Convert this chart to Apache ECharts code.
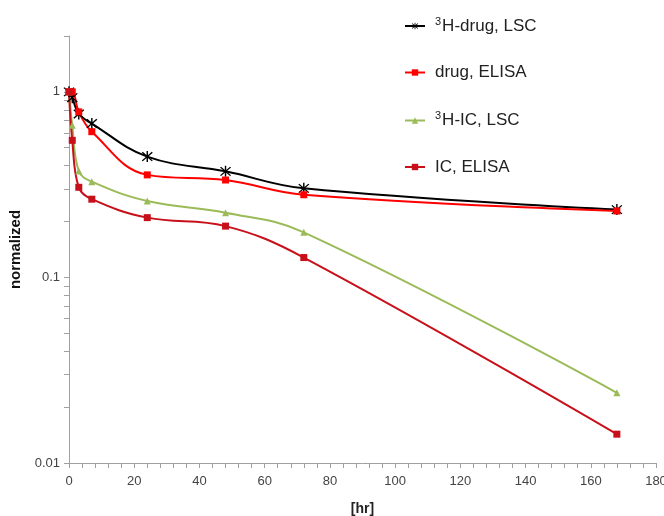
<!DOCTYPE html>
<html>
<head>
<meta charset="utf-8">
<script src="https://cdn.jsdelivr.net/npm/echarts@6/dist/echarts.min.js"></script>
<style>
  html, body { margin: 0; padding: 0; background: #fff; }
  #chart { width: 664px; height: 516px; }
</style>
</head>
<body>
<div id="chart"></div>
<script>
// Sampling times in hours
const times = [0, 1, 3, 7, 24, 48, 72, 168];

// Normalized concentrations per assay
const drugLSC   = [1.0, 0.93, 0.76, 0.675, 0.448, 0.373, 0.302, 0.232];
const drugELISA = [1.0, 1.0, 0.78, 0.61, 0.357, 0.335, 0.279, 0.228];
const icLSC     = [1.0, 0.66, 0.375, 0.328, 0.258, 0.223, 0.175, 0.0239];
const icELISA   = [1.0, 0.548, 0.306, 0.264, 0.210, 0.189, 0.128, 0.0143];

// Axis ticks
const xTicks = [0, 20, 40, 60, 80, 100, 120, 140, 160, 180];
const yLabels = [0.01, 0.1, 1];
const yMinorTicks = [0.02, 0.03, 0.04, 0.05, 0.06, 0.07, 0.08, 0.09,
                     0.2, 0.3, 0.4, 0.5, 0.6, 0.7, 0.8, 0.9, 2];

const pair = (ys) => times.map((t, i) => [t, ys[i]]);

// six-armed asterisk marker
const asterisk = 'path://M-1,-9 L1,-9 L1,9 L-1,9 Z ' +
  'M-7.7,-6.3 L-6.3,-7.7 L7.7,6.3 L6.3,7.7 Z ' +
  'M6.3,-7.7 L7.7,-6.3 L-6.3,7.7 L-7.7,6.3 Z';

const sans = "'Liberation Sans', Arial, sans-serif";

const legendRich = {
  sup: { fontSize: 11, verticalAlign: 'top', padding: [0, 1, 9, 0], color: '#222', fontFamily: sans },
  n: { fontSize: 17, color: '#222', fontFamily: sans }
};

function line(name, data, color, symbol, size) {
  return {
    name: name,
    type: 'line',
    data: pair(data),
    smooth: 0.4,
    symbol: symbol,
    symbolSize: size,
    showSymbol: true,
    lineStyle: { color: color, width: 2 },
    itemStyle: { color: color, borderWidth: 0 },
    emphasis: { disabled: true }
  };
}

const chart = echarts.init(document.getElementById('chart'), null, { renderer: 'canvas' });
chart.setOption({
  animation: false,
  backgroundColor: '#fff',
  grid: { left: 69, right: 8, top: 36, bottom: 53, outerBoundsMode: 'none', containLabel: false },
  legend: {
    orient: 'vertical',
    left: 399,
    top: 11,
    itemGap: 29.5,
    itemWidth: 20,
    itemHeight: 8,
    data: ['3H-drug, LSC', 'drug, ELISA', '3H-IC, LSC', 'IC, ELISA'],
    formatter: function (name) {
      if (name.indexOf('3H') === 0) return '{sup|3}{n|' + name.slice(1) + '}';
      return '{n|' + name + '}';
    },
    textStyle: { rich: legendRich, padding: [0, 0, 0, 5] }
  },
  xAxis: {
    type: 'value',
    min: 0,
    max: 180,
    interval: 20,
    name: '[hr]',
    nameLocation: 'middle',
    nameGap: 39,
    nameTextStyle: { fontFamily: sans, fontWeight: 'bold', fontSize: 14, color: '#222' },
    axisLine: { lineStyle: { color: '#a0a0a0', width: 1 } },
    axisTick: { show: true, inside: false, length: 5, lineStyle: { color: '#a0a0a0' } },
    minorTick: { show: true, splitNumber: 5, length: 5, lineStyle: { color: '#a0a0a0' } },
    axisLabel: { fontFamily: sans, fontSize: 13, color: '#444', margin: 12,
      formatter: (v) => xTicks.indexOf(v) >= 0 ? String(v) : '' },
    splitLine: { show: false }
  },
  yAxis: {
    type: 'log',
    logBase: 10,
    min: 0.01,
    max: 2,
    name: 'normalized',
    nameLocation: 'middle',
    nameGap: 43,
    nameTextStyle: { fontFamily: sans, fontWeight: 'bold', fontSize: 15, color: '#111' },
    axisLine: { show: true, lineStyle: { color: '#a0a0a0', width: 1 } },
    axisTick: { show: true, inside: false, length: 5, lineStyle: { color: '#a0a0a0' },
      customValues: yLabels.concat(yMinorTicks) },
    axisLabel: { fontFamily: sans, fontSize: 13, color: '#444', margin: 9,
      customValues: yLabels,
      formatter: (v) => String(+v.toPrecision(3)) },
    splitLine: { show: false }
  },
  series: [
    line('3H-drug, LSC', drugLSC, '#000000', asterisk, 11),
    line('drug, ELISA', drugELISA, '#ff0000', 'rect', 7),
    line('3H-IC, LSC', icLSC, '#9bbb59', 'triangle', 7),
    line('IC, ELISA', icELISA, '#c8101a', 'rect', 7)
  ]
});
</script>
</body>
</html>
